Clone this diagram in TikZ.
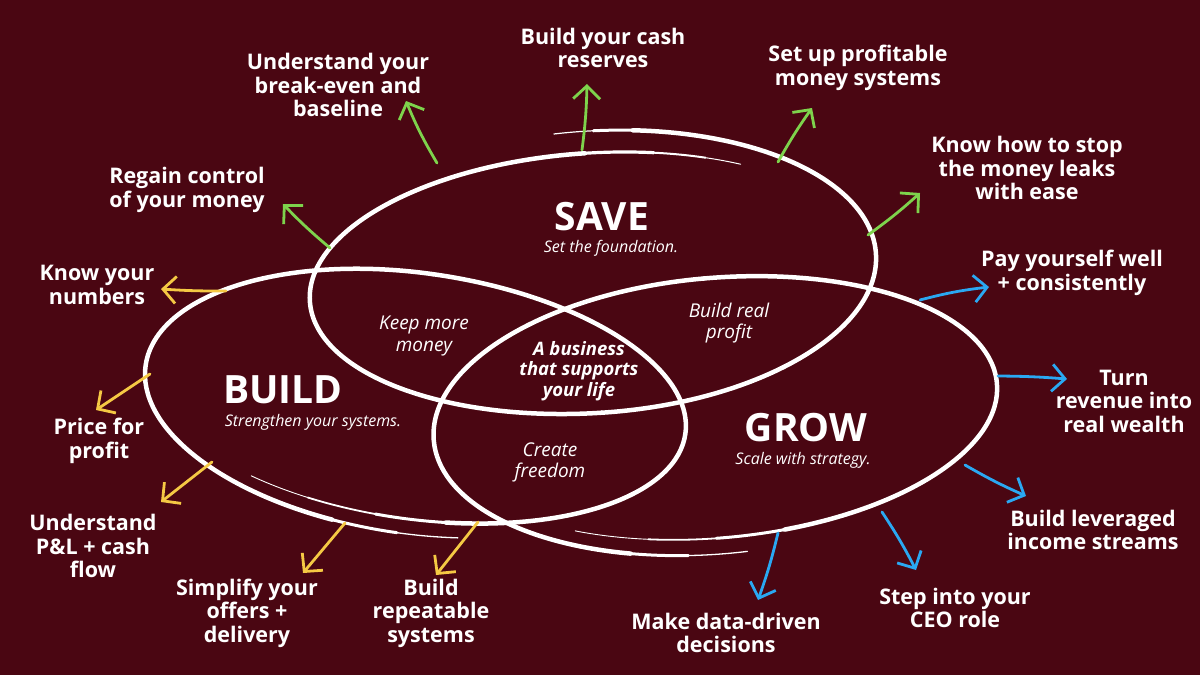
\documentclass[tikz,border=0pt]{standalone}
\usepackage{fontspec}
\setmainfont{Open Sans}
\usetikzlibrary{arrows.meta}
\definecolor{bg}{HTML}{4A0612}
\definecolor{grn}{HTML}{7ED34C}
\definecolor{ylw}{HTML}{F5C944}
\definecolor{blu}{HTML}{2AA8F2}
% #1 x radius, #2 centre offset (canvas, up), #3 y radius, #4 start angle, #5 end angle, #6 width
\newcommand{\myarc}[6]{\draw[white, line width=#6, line cap=round] ({#1pt*cos(#4)},{#2pt+#3pt*sin(#4)}) arc[start angle=#4, end angle=#5, x radius=#1pt, y radius=#3pt];}
\tikzset{
  lab/.style={text=white, align=center, font=\bfseries\fontsize{21.5}{23.5}\selectfont, inner sep=0pt},
  inner/.style={text=white, align=center, font=\itshape\fontsize{19}{21}\selectfont, inner sep=0pt},
  core/.style={text=white, align=center, font=\bfseries\itshape\fontsize{18.5}{20.5}\selectfont, inner sep=0pt},
  ttl/.style={text=white, font=\bfseries\fontsize{39}{44}\selectfont, inner sep=0pt},
  sub/.style={text=white, font=\itshape\fontsize{16}{18}\selectfont, inner sep=0pt},
  arr/.style={line width=2.8pt, line cap=round, -{Straight Barb[length=13pt,width=27pt,line width=2.8pt]}},
  ga/.style={arr, draw=grn},
  ya/.style={arr, draw=ylw},
  ba/.style={arr, draw=blu}
}
\begin{document}
\begin{tikzpicture}[x=1pt,y=-1pt]
\fill[bg] (0,0) rectangle (1200,675);
\useasboundingbox (0,0) rectangle (1200,675);

% SAVE ellipse (hand-drawn spiral, overlap at the top)
\begin{scope}[shift={(593,279)}, rotate=3.7]
  \myarc{284}{-4}{130}{270}{90}{4.5pt}
  \myarc{284}{-4}{130}{90}{76}{3.2pt}
  \myarc{284}{-4}{130}{76}{65}{2pt}
  \myarc{284}{-4}{130}{65}{57}{1pt}
  \myarc{284}{7}{141}{-90}{80}{4.5pt}
  \myarc{284}{7}{141}{80}{88}{3pt}
  \myarc{284}{7}{141}{88}{96}{1.2pt}
\end{scope}
% BUILD ellipse (overlap at the bottom left)
\begin{scope}[shift={(416,396)}, rotate=-8]
  \myarc{272}{-7.5}{130.5}{90}{256}{4.5pt}
  \myarc{272}{-7.5}{130.5}{256}{270}{3pt}
  \myarc{272}{-7.5}{130.5}{270}{283}{1.3pt}
  \myarc{272}{0}{123}{90}{-80}{4.5pt}
  \myarc{272}{0}{123}{-80}{-95}{3pt}
  \myarc{272}{0}{123}{-95}{-110}{1.8pt}
  \myarc{272}{0}{123}{-110}{-124}{0.9pt}
\end{scope}
% GROW ellipse (overlap at the bottom left)
\begin{scope}[shift={(715,408)}, rotate=5]
  \myarc{283}{-8}{138}{90}{250}{4.5pt}
  \myarc{283}{-8}{138}{250}{262}{3pt}
  \myarc{283}{-8}{138}{262}{274}{1.3pt}
  \myarc{283}{0}{130}{90}{-78}{4.5pt}
  \myarc{283}{0}{130}{-78}{-92}{3pt}
  \myarc{283}{0}{130}{-92}{-106}{1.8pt}
  \myarc{283}{0}{130}{-106}{-122}{0.9pt}
\end{scope}

% titles
\node[ttl] (save) at (602,217) {SAVE};
\node[sub] (saves) at (611,248) {Set the foundation.};
\node[ttl] (build) at (283,390) {BUILD};
\node[sub] (builds) at (313,422) {Strengthen your systems.};
\node[ttl] (grow) at (806,428) {GROW};
\node[sub] (grows) at (803,460) {Scale with strategy.};

% overlaps
\node[inner] (keep) at (424,336) {Keep more\\money};
\node[inner] (real) at (729,323) {Build real\\profit};
\node[inner] (free) at (550,462) {Create\\freedom};
\node[core] (life) at (579,371) {A business\\that supports\\your life};

% labels - save
\node[lab] (s1) at (338,85) {Understand your\\break-even and\\baseline};
\node[lab] (s2) at (603,48) {Build your cash\\reserves};
\node[lab] (s3) at (858,68) {Set up profitable\\money systems};
\node[lab] (s4) at (1027,168) {Know how to stop\\the money leaks\\with ease};
\node[lab] (s5) at (187,190) {Regain control\\of your money};
% labels - build
\node[lab] (b1) at (97,285) {Know your\\numbers};
\node[lab] (b2) at (99,441) {Price for\\profit};
\node[lab] (b3) at (93,546) {Understand\\P\&L + cash\\flow};
\node[lab] (b4) at (247,613) {Simplify your\\offers +\\delivery};
\node[lab] (b5) at (431,613) {Build\\repeatable\\systems};
% labels - grow
\node[lab] (g1) at (1072,273) {Pay yourself well\\+ consistently};
\node[lab] (g2) at (1124,401) {Turn\\revenue into\\real wealth};
\node[lab] (g3) at (1093,530) {Build leveraged\\income streams};
\node[lab] (g4) at (955,608) {Step into your\\CEO role};
\node[lab] (g5) at (726,633) {Make data-driven\\decisions};

% arrow coordinates
\coordinate (s1a) at (437,163); \coordinate (s1b) at (406,101);
\coordinate (s2a) at (582,150); \coordinate (s2b) at (587,84);
\coordinate (s3a) at (778,162); \coordinate (s3b) at (812,108);
\coordinate (s4a) at (868,235); \coordinate (s4b) at (920,193);
\coordinate (s5a) at (330,248); \coordinate (s5b) at (283,204);
\coordinate (b1a) at (226,291); \coordinate (b1b) at (161,289);
\coordinate (b2a) at (150,374); \coordinate (b2b) at (96,410);
\coordinate (b3a) at (212,462); \coordinate (b3b) at (161,502);
\coordinate (b4a) at (345,523); \coordinate (b4b) at (303,573);
\coordinate (b5a) at (478,522); \coordinate (b5b) at (436,575);
\coordinate (g1a) at (920,300); \coordinate (g1b) at (989,287);
\coordinate (g2a) at (998,376); \coordinate (g2b) at (1067,379);
\coordinate (g3a) at (965,465); \coordinate (g3b) at (1026,496);
\coordinate (g4a) at (882,512); \coordinate (g4b) at (916,570);
\coordinate (g5a) at (778,533); \coordinate (g5b) at (758,600);

\draw[ga] (s1a) to[bend left=4] (s1b);
\draw[ga] (s2a) to[bend right=3] (s2b);
\draw[ga] (s3a) to[bend left=3] (s3b);
\draw[ga] (s4a) to[bend right=3] (s4b);
\draw[ga] (s5a) to[bend left=3] (s5b);
\draw[ya] (b1a) to[bend left=2] (b1b);
\draw[ya] (b2a) -- (b2b);
\draw[ya] (b3a) -- (b3b);
\draw[ya] (b4a) -- (b4b);
\draw[ya] (b5a) -- (b5b);
\draw[ba] (g1a) to[bend left=4] (g1b);
\draw[ba] (g2a) to[bend left=2] (g2b);
\draw[ba] (g3a) to[bend right=3] (g3b);
\draw[ba] (g4a) to[bend left=3] (g4b);
\draw[ba] (g5a) to[bend left=3] (g5b);
\end{tikzpicture}
\end{document}
